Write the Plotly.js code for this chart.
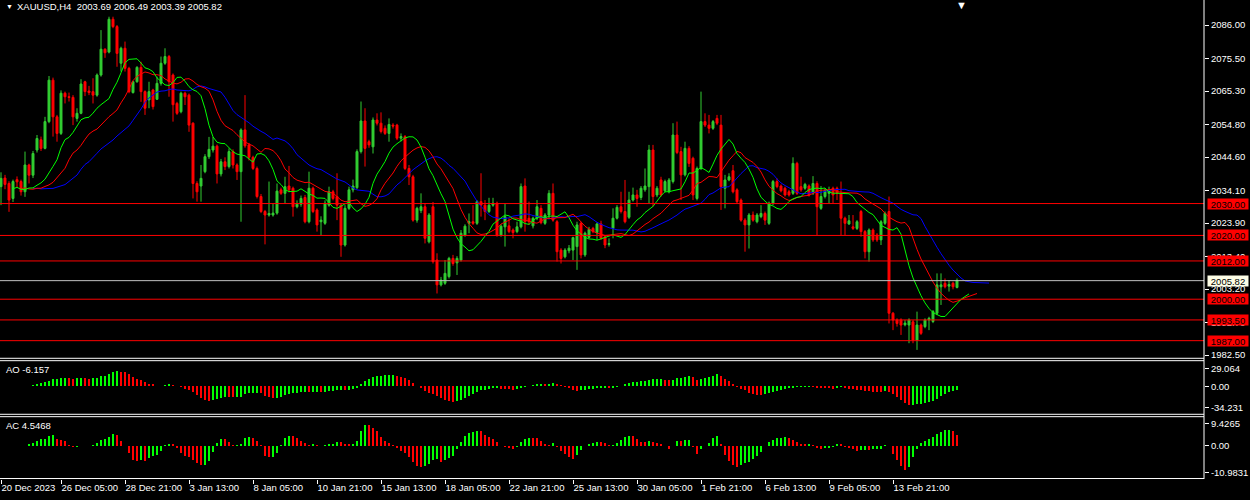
<!DOCTYPE html>
<html>
<head>
<meta charset="utf-8">
<script src="https://cdn.plot.ly/plotly-3.0.1.min.js"></script>
<style>
html, body { margin: 0; padding: 0; background: #000; }
#chart { width: 1250px; height: 500px; }
</style>
</head>
<body>
<div id="chart"></div>
<script>
// XAUUSD H4 candles (oldest first)
const symbol = 'XAUUSD,H4';

const opens = [
  2035.3,2038.0,2036.3,2031.6,2037.5,2036.9,2033.7,2042.1,2038.9,2046.8,
  2050.0,2047.3,2055.7,2068.7,2057.2,2052.0,2064.6,2063.5,2063.3,2056.7,
  2058.3,2068.2,2065.3,2065.1,2064.0,2070.3,2078.4,2077.5,2087.8,2085.5,
  2074.0,2078.7,2072.4,2064.8,2068.2,2072.7,2065.1,2062.5,2065.6,2062.7,
  2067.7,2074.0,2076.1,2070.3,2061.4,2058.8,2064.6,2064.0,2055.2,2036.3,
  2035.5,2040.0,2044.7,2046.8,2048.0,2039.3,2043.1,2041.6,2046.3,2042.1,
  2040.0,2053.1,2048.4,2044.5,2041.0,2032.2,2027.5,2026.4,2026.4,2027.0,
  2034.3,2033.2,2035.5,2034.8,2029.0,2029.8,2031.9,2024.3,2034.8,2028.0,
  2024.3,2023.8,2029.5,2033.7,2032.2,2029.5,2017.0,2028.5,2034.3,2035.0,
  2046.3,2055.9,2049.4,2047.8,2056.2,2055.2,2053.6,2052.0,2054.6,2054.6,
  2050.5,2051.0,2041.0,2038.4,2024.8,2027.8,2029.0,2018.0,2029.0,2012.3,
  2004.5,2005.0,2007.1,2012.8,2011.4,2012.3,2020.1,2023.8,2024.3,2023.8,
  2030.6,2029.5,2027.5,2029.5,2030.1,2020.1,2022.7,2023.0,2021.7,2021.2,
  2022.7,2035.5,2025.4,2023.0,2025.4,2028.5,2023.8,2026.4,2033.2,2024.3,
  2015.4,2013.3,2015.2,2015.4,2016.5,2023.8,2013.9,2019.4,2022.2,2020.9,
  2023.6,2019.6,2017.2,2022.2,2025.4,2029.0,2027.5,2025.7,2031.1,2032.7,
  2031.9,2034.3,2035.3,2046.8,2032.7,2037.4,2034.0,2033.7,2036.9,2051.5,
  2046.3,2039.0,2047.3,2044.2,2031.6,2041.0,2055.7,2054.6,2053.6,2056.7,
  2054.6,2034.8,2037.4,2040.3,2034.3,2031.1,2024.8,2023.3,2026.4,2024.3,
  2025.9,2026.9,2023.8,2030.1,2036.9,2035.5,2034.8,2033.7,2033.2,2042.6,
  2035.3,2034.8,2035.5,2033.2,2036.3,2028.5,2032.2,2033.2,2034.8,2034.8,
  2033.2,2025.4,2023.6,2022.7,2022.2,2027.5,2021.2,2014.9,2021.7,2020.1,
  2018.6,2023.8,2027.5,1995.6,1993.5,1993.5,1992.0,1991.9,1992.9,1987.2,
  1991.9,1991.4,1993.5,1993.0,1995.6,2003.9,2005.0,2004.1,2005.0,2003.69
];
const highs = [
  2039.8,2039.0,2037.0,2037.5,2038.5,2037.5,2046.3,2042.5,2046.5,2051.5,
  2051.0,2057.2,2070.0,2069.5,2057.8,2065.5,2065.1,2064.8,2064.0,2059.9,
  2069.0,2068.5,2066.9,2069.3,2070.8,2084.4,2078.7,2088.6,2088.6,2086.0,
  2079.2,2080.8,2072.9,2068.5,2073.1,2074.5,2065.5,2068.2,2066.0,2069.8,
  2076.1,2078.7,2076.6,2070.8,2061.9,2065.1,2065.1,2064.5,2055.5,2037.0,
  2042.1,2045.5,2050.9,2050.9,2048.5,2044.0,2044.5,2047.3,2047.0,2042.6,
  2053.6,2064.0,2049.0,2045.0,2041.6,2033.0,2028.0,2036.9,2030.0,2036.3,
  2035.0,2038.4,2041.8,2035.3,2031.0,2032.5,2032.7,2040.0,2035.3,2028.5,
  2026.0,2031.0,2035.3,2034.3,2039.5,2030.1,2029.5,2035.3,2037.5,2047.0,
  2062.0,2059.9,2050.0,2057.0,2058.3,2058.6,2054.5,2056.7,2055.2,2055.0,
  2052.0,2051.5,2042.1,2039.0,2029.0,2033.2,2030.1,2027.0,2030.5,2014.4,
  2007.0,2012.3,2013.3,2013.9,2013.5,2021.7,2023.5,2026.9,2029.5,2031.1,
  2039.5,2031.1,2031.8,2031.8,2030.6,2023.5,2030.1,2025.4,2022.2,2024.3,
  2036.3,2037.9,2030.6,2025.9,2031.1,2029.5,2027.0,2034.2,2036.3,2024.8,
  2016.0,2016.0,2017.0,2019.6,2024.3,2024.3,2021.2,2022.7,2022.7,2024.0,
  2024.6,2020.1,2019.1,2028.5,2029.5,2033.7,2037.4,2033.7,2035.0,2034.3,
  2035.5,2041.0,2048.4,2048.4,2035.5,2038.4,2037.5,2038.0,2055.2,2055.7,
  2047.8,2049.4,2048.0,2044.7,2041.6,2065.1,2058.3,2057.8,2056.2,2057.8,
  2057.8,2039.0,2039.5,2042.1,2034.8,2031.6,2025.4,2027.0,2027.5,2027.0,
  2029.5,2027.5,2030.6,2037.4,2037.9,2036.0,2035.3,2034.3,2044.5,2043.1,
  2038.4,2036.5,2036.0,2038.6,2037.0,2035.5,2034.8,2035.3,2035.3,2035.3,
  2036.9,2025.9,2026.4,2026.4,2024.8,2028.0,2021.7,2022.2,2022.2,2020.7,
  2024.8,2027.5,2032.2,1996.0,1994.0,1994.0,1993.5,1994.0,1993.5,1996.1,
  1992.4,1994.0,1994.5,1996.6,2008.1,2008.1,2006.5,2006.0,2005.5,2006.49
];
const lows = [
  2029.5,2034.5,2027.4,2030.5,2035.0,2032.5,2032.1,2036.3,2038.0,2046.0,
  2046.5,2047.0,2055.2,2051.0,2049.4,2051.5,2061.4,2062.0,2054.6,2055.7,
  2058.0,2063.7,2064.0,2061.4,2063.5,2069.8,2075.7,2077.1,2085.0,2072.9,
  2071.4,2071.4,2064.6,2064.5,2067.9,2061.9,2057.8,2059.9,2059.5,2062.5,
  2067.0,2073.5,2063.5,2055.7,2057.8,2058.3,2060.9,2052.5,2031.6,2030.6,
  2030.6,2039.5,2044.0,2046.0,2036.3,2038.5,2040.5,2041.0,2041.0,2037.4,
  2024.3,2047.5,2043.5,2040.5,2031.6,2027.0,2017.2,2025.9,2025.9,2026.5,
  2032.7,2030.1,2033.5,2025.9,2028.5,2029.0,2023.8,2023.8,2027.0,2021.2,
  2020.1,2023.3,2029.0,2031.0,2024.8,2013.3,2016.5,2028.0,2033.5,2034.5,
  2045.7,2041.6,2047.5,2045.7,2054.5,2052.0,2051.5,2049.4,2053.5,2049.9,
  2049.5,2040.5,2035.8,2024.3,2024.0,2027.0,2017.5,2017.5,2011.2,2001.8,
  2004.0,2004.5,2006.5,2010.5,2007.6,2011.8,2019.6,2020.7,2023.3,2023.3,
  2025.9,2024.8,2027.0,2029.0,2019.6,2019.6,2016.5,2020.7,2019.1,2020.7,
  2022.2,2021.2,2023.3,2022.2,2024.8,2023.5,2023.3,2025.4,2024.3,2011.8,
  2011.2,2012.8,2014.4,2012.3,2009.2,2012.8,2013.3,2019.0,2020.7,2018.6,
  2018.6,2016.0,2016.5,2019.1,2025.0,2026.9,2023.8,2025.2,2030.6,2029.0,
  2031.1,2033.7,2030.1,2029.0,2032.0,2032.2,2033.5,2033.2,2036.3,2045.5,
  2031.1,2038.5,2041.5,2031.1,2031.0,2040.5,2054.0,2052.0,2053.1,2054.6,
  2028.0,2028.5,2037.0,2033.2,2030.1,2024.3,2014.9,2015.9,2024.3,2023.8,
  2025.4,2023.3,2023.3,2029.5,2034.8,2033.5,2032.2,2032.2,2032.7,2032.7,
  2033.7,2034.3,2032.2,2032.7,2020.1,2028.0,2031.6,2030.1,2030.1,2031.1,
  2020.1,2020.1,2023.3,2021.7,2021.7,2019.6,2012.8,2011.8,2018.0,2018.0,
  2017.0,2023.3,1992.4,1990.3,1991.4,1988.8,1991.5,1986.2,1986.2,1984.1,
  1988.8,1990.9,1990.3,1992.5,1995.0,1998.2,2003.4,2002.4,2003.1,2003.39
];
const closes = [
  2037.9,2036.0,2031.1,2036.9,2036.8,2033.7,2042.1,2038.9,2045.7,2050.4,
  2047.3,2055.7,2068.7,2057.2,2052.0,2064.6,2063.5,2063.3,2057.2,2058.3,
  2067.5,2065.1,2064.8,2064.0,2070.3,2078.4,2077.3,2087.8,2085.5,2077.1,
  2078.7,2072.4,2065.1,2068.2,2072.7,2065.1,2059.9,2065.1,2060.4,2067.7,
  2074.0,2076.1,2068.2,2061.0,2058.3,2064.6,2063.5,2054.6,2036.3,2033.7,
  2037.9,2044.7,2047.0,2048.0,2039.3,2043.1,2041.6,2046.3,2042.1,2040.0,
  2053.1,2048.1,2044.5,2041.0,2032.2,2027.5,2026.4,2026.9,2027.0,2033.9,
  2033.2,2035.3,2034.3,2029.0,2029.8,2031.6,2024.3,2034.8,2027.5,2023.3,
  2024.8,2030.1,2033.7,2031.6,2029.5,2017.0,2028.5,2034.3,2035.5,2046.3,
  2055.9,2047.3,2048.4,2056.2,2055.2,2052.6,2052.0,2054.8,2054.3,2050.5,
  2051.0,2041.0,2038.4,2024.8,2028.5,2029.0,2019.1,2026.4,2011.8,2004.5,
  2006.0,2008.1,2012.8,2011.2,2012.8,2020.7,2022.9,2024.3,2023.8,2030.6,
  2029.5,2027.5,2029.5,2030.1,2020.1,2022.9,2025.9,2021.2,2020.9,2022.7,
  2035.3,2024.3,2024.3,2025.4,2029.0,2024.0,2026.4,2033.2,2024.8,2014.9,
  2012.8,2015.4,2016.0,2019.3,2023.3,2013.9,2020.7,2021.9,2021.2,2023.6,
  2019.1,2017.0,2017.4,2025.4,2028.8,2027.5,2024.3,2031.1,2032.7,2031.6,
  2034.8,2035.5,2046.8,2032.2,2034.8,2032.7,2036.9,2037.4,2051.5,2046.0,
  2039.0,2047.3,2042.6,2032.7,2041.0,2055.7,2054.6,2053.6,2055.7,2055.2,
  2035.3,2037.4,2038.4,2033.7,2030.6,2024.8,2023.3,2026.4,2024.8,2026.4,
  2026.9,2024.8,2030.1,2036.9,2035.3,2034.0,2032.7,2032.7,2042.6,2033.2,
  2034.3,2036.0,2032.7,2036.3,2029.0,2032.2,2034.2,2034.2,2032.7,2033.2,
  2025.4,2023.8,2024.6,2022.2,2024.3,2021.2,2014.9,2021.7,2018.6,2018.6,
  2024.3,2026.9,1995.6,1993.5,1992.4,1991.9,1992.5,1993.5,1987.2,1991.9,
  1989.3,1993.5,1994.0,1996.1,2004.5,2004.5,2003.9,2004.6,2003.9,2005.82
];

// time axis: bar index of each label
const dateTicks = [0, 15, 31, 47, 63, 79, 95, 111, 127, 143, 159, 175, 191, 207, 223];
const dateLabels = ['20 Dec 2023', '26 Dec 05:00', '28 Dec 21:00', '3 Jan 13:00', '8 Jan 05:00',
  '10 Jan 21:00', '15 Jan 13:00', '18 Jan 05:00', '22 Jan 21:00', '25 Jan 13:00',
  '30 Jan 05:00', '1 Feb 21:00', '6 Feb 13:00', '9 Feb 05:00', '13 Feb 21:00'];

const priceTicks = [2086.00, 2075.50, 2065.30, 2054.80, 2044.60, 2034.10, 2023.90, 2013.40, 2003.20, 1992.70, 1982.50];
const levels = [2030.00, 2020.00, 2012.00, 2000.00, 1993.50, 1987.00];
const bidPrice = 2005.82;

const aoTicks = [29.064, 0, -34.231];
const aoTickText = ['29.064', '0.00', '-34.231'];
const acTicks = [9.4265, 0, -10.9831];
const acTickText = ['9.4265', '0.00', '-10.9831'];
const aoLabel = 'AO -6.157';
const acLabel = 'AC 4.5468';

const GREEN = '#32cd32';
const BAR_GREEN = '#00ff00';
const RED = '#ff0000';
const WHITE = '#ffffff';
const FONT = 'Liberation Sans, Arial, sans-serif';

if (![opens, highs, lows].every(a => a.length === closes.length)) {
    console.error('OHLC arrays differ in length');
}

const idx = closes.map((_, i) => i);
const median = highs.map((h, i) => (h + lows[i]) / 2);

function sma(src, period, i) {
    const from = Math.max(0, i - period + 1);
    let sum = 0;
    for (let k = from; k <= i; k++) sum += src[k];
    return sum / (i - from + 1);
}

function smma(src, period) {
    const out = [src[0]];
    for (let i = 1; i < src.length; i++) {
        out.push((out[i - 1] * (period - 1) + src[i]) / period);
    }
    return out;
}

// Bill Williams indicators, as the terminal computes them
const ao = median.map((_, i) => sma(median, 5, i) - sma(median, 34, i));
const ac = ao.map((v, i) => v - sma(ao, 5, i));

function risingColors(vals) {
    const cols = [];
    vals.forEach((v, i) => {
        if (i === 0) cols.push(BAR_GREEN);
        else if (v > vals[i - 1]) cols.push(BAR_GREEN);
        else if (v < vals[i - 1]) cols.push(RED);
        else cols.push(cols[i - 1]);
    });
    return cols;
}

const alligator = [
    { name: 'Jaw', period: 13, shift: 8, color: '#0000ff' },
    { name: 'Teeth', period: 8, shift: 5, color: '#ff0000' },
    { name: 'Lips', period: 5, shift: 3, color: '#00ff00' }
];

const traces = [{
    type: 'candlestick',
    x: idx, open: opens, high: highs, low: lows, close: closes,
    increasing: { line: { color: GREEN, width: 1 }, fillcolor: GREEN },
    decreasing: { line: { color: RED, width: 1 }, fillcolor: RED },
    whiskerwidth: 0,
    xaxis: 'x', yaxis: 'y',
    hoverinfo: 'skip', showlegend: false
}];

alligator.forEach(a => {
    traces.push({
        type: 'scatter', mode: 'lines',
        x: idx.map(i => i + a.shift),
        y: smma(median, a.period),
        line: { color: a.color, width: 1 },
        xaxis: 'x', yaxis: 'y',
        hoverinfo: 'skip', showlegend: false, name: a.name
    });
});

traces.push({
    type: 'bar', x: idx, y: ao, width: 0.3,
    marker: { color: risingColors(ao), line: { width: 0 } },
    xaxis: 'x', yaxis: 'y2', hoverinfo: 'skip', showlegend: false
});
traces.push({
    type: 'bar', x: idx, y: ac, width: 0.3,
    marker: { color: risingColors(ac), line: { width: 0 } },
    xaxis: 'x', yaxis: 'y3', hoverinfo: 'skip', showlegend: false
});

const xRight = 1204 / 1250;
const tickFont = { color: WHITE, size: 9.5, family: FONT };

function rightAxis(domain, range, vals, text) {
    return {
        domain: domain, range: range, side: 'right', anchor: 'x',
        tickvals: vals, ticktext: text,
        ticks: 'outside', ticklen: 4, tickcolor: WHITE, tickfont: tickFont,
        showgrid: false, zeroline: false, showline: false, fixedrange: true
    };
}

const shapes = [];
const annotations = [];

levels.forEach(lv => {
    shapes.push({ type: 'line', xref: 'paper', yref: 'y', x0: 0, x1: xRight, y0: lv, y1: lv,
        line: { color: RED, width: 1 } });
    annotations.push({ xref: 'paper', yref: 'y', x: 1207 / 1250, y: lv, xanchor: 'left', yanchor: 'middle',
        text: lv.toFixed(2), showarrow: false, bgcolor: RED, width: 40, height: 10, borderpad: 0,
        font: { color: '#000000', size: 9.5, family: FONT } });
});
shapes.push({ type: 'line', xref: 'paper', yref: 'y', x0: 0, x1: xRight, y0: bidPrice, y1: bidPrice,
    line: { color: '#c0c0c0', width: 1 } });
annotations.push({ xref: 'paper', yref: 'y', x: 1207 / 1250, y: bidPrice, xanchor: 'left', yanchor: 'middle',
    text: bidPrice.toFixed(2), showarrow: false, bgcolor: '#fdfde6', width: 40, height: 10, borderpad: 0,
    font: { color: '#000000', size: 9.5, family: FONT } });

// window frames
[0.2520, 0.2470, 0.1351, 0.1301, 0.001].forEach(yp => {
    shapes.push({ type: 'line', xref: 'paper', yref: 'paper', x0: 0, x1: xRight, y0: yp, y1: yp,
        line: { color: WHITE, width: 1 } });
});
shapes.push({ type: 'line', xref: 'paper', yref: 'paper', x0: xRight, x1: xRight, y0: 0, y1: 1,
    line: { color: WHITE, width: 1 } });

const last = closes.length - 1;
annotations.push({ xref: 'paper', yref: 'paper', x: 4 / 1250, y: (479 - 7) / 479, xanchor: 'left', yanchor: 'middle',
    text: '▼', showarrow: false, font: { color: WHITE, size: 7, family: FONT } });
annotations.push({ xref: 'paper', yref: 'paper', x: 15 / 1250, y: (479 - 7) / 479, xanchor: 'left', yanchor: 'middle',
    text: symbol + '  ' + [opens[last], highs[last], lows[last], closes[last]].map(v => v.toFixed(2)).join(' '),
    showarrow: false, font: { color: WHITE, size: 9.5, family: FONT } });
annotations.push({ xref: 'paper', yref: 'paper', x: 962 / 1250, y: 1, xanchor: 'center', yanchor: 'top', yshift: 3,
    text: '▼', showarrow: false, font: { color: WHITE, size: 11, family: FONT } });
annotations.push({ xref: 'paper', yref: 'paper', x: 4 / 1250, y: (479 - 369) / 479, xanchor: 'left', yanchor: 'middle',
    text: aoLabel, showarrow: false, font: { color: WHITE, size: 9.5, family: FONT } });
annotations.push({ xref: 'paper', yref: 'paper', x: 4 / 1250, y: (479 - 425) / 479, xanchor: 'left', yanchor: 'middle',
    text: acLabel, showarrow: false, font: { color: WHITE, size: 9.5, family: FONT } });

const layout = {
    width: 1250, height: 500,
    margin: { l: 0, r: 0, t: 0, b: 21 },
    paper_bgcolor: '#000000', plot_bgcolor: '#000000',
    font: { family: FONT, color: WHITE },
    showlegend: false,
    bargap: 0,
    xaxis: {
        domain: [0, xRight], range: [-0.25, 300.75], anchor: 'y3', type: 'linear',
        rangeslider: { visible: false },
        tickvals: dateTicks, ticktext: dateLabels, tickangle: 0,
        ticks: 'outside', ticklen: 4, tickcolor: WHITE,
        ticklabelposition: 'outside right', tickfont: tickFont,
        showgrid: false, zeroline: false, showline: false, fixedrange: true
    },
    yaxis: rightAxis([0.2526, 1], [1981.56, 2093.84], priceTicks, priceTicks.map(v => v.toFixed(2))),
    yaxis2: rightAxis([0.1351, 0.2470], [-45.6, 41.4], aoTicks, aoTickText),
    yaxis3: rightAxis([0, 0.1301], [-13.8, 12.2], acTicks, acTickText),
    shapes: shapes,
    annotations: annotations
};

Plotly.newPlot('chart', traces, layout, { displayModeBar: false, staticPlot: true });
</script>
</body>
</html>
